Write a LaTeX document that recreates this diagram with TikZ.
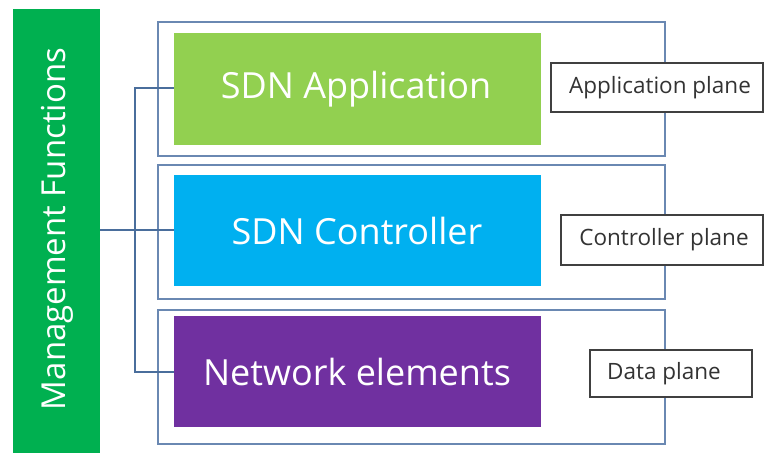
\documentclass[tikz,border=0pt]{standalone}
\usepackage{fontspec}
\setmainfont{Open Sans}
\definecolor{mgmtgreen}{HTML}{00B050}
\definecolor{appgreen}{HTML}{92D050}
\definecolor{ctrlblue}{HTML}{00B0F0}
\definecolor{netpurple}{HTML}{7030A0}
\definecolor{frameblue}{HTML}{6A88B2}
\definecolor{wireblue}{HTML}{4A6E9C}
\begin{document}
\begin{tikzpicture}[x=1pt,y=-1pt,
  planeframe/.style={draw=frameblue,line width=1.6pt},
  layertext/.style={text=white,font=\fontsize{36}{40}\selectfont},
  tagbox/.style={draw=black!75,fill=white,line width=1.3pt},
  tagtext/.style={text=black!80,font=\fontsize{22.5}{26}\selectfont},
  wire/.style={draw=wireblue,line width=1.3pt}]
\useasboundingbox[fill=white] (0,0) rectangle (765,453);

% management functions bar
\fill[mgmtgreen] (13,9) rectangle (100,453);
\node[rotate=90,text=white,font=\fontsize{33}{38}\selectfont] (mgmt) at (57,229) {Management Functions};
\coordinate (mgmtport) at (100,230);

% plane frames
\draw[planeframe] (158,22) rectangle (665,156);
\draw[planeframe] (158,165) rectangle (665,299);
\draw[planeframe] (158,310) rectangle (665,444);

% layer boxes
\fill[appgreen] (174,33) rectangle (541,145);
\node[layertext] (app) at (356,89) {SDN Application};
\fill[ctrlblue] (174,175) rectangle (541,286);
\node[layertext] (ctrl) at (357,230.5) {SDN Controller};
\fill[netpurple] (174,316) rectangle (541,427);
\node[layertext] (net) at (357,371.5) {Network elements};

\coordinate (appin) at (174,88);
\coordinate (ctrlin) at (174,230);
\coordinate (netin) at (174,372);
\coordinate (bus) at (135,230);

% connectors from the management bar
\draw[wire] (mgmtport) -- (ctrlin);
\draw[wire] (appin) -| (bus) |- (netin);

% plane tags
\draw[tagbox] (551,63) rectangle (763,112);
\node[tagtext] (apptag) at (660,87.5) {Application plane};
\draw[tagbox] (561,215) rectangle (763,265);
\node[tagtext] (ctrltag) at (664,240) {Controller plane};
\draw[tagbox] (590,350) rectangle (752,397);
\node[tagtext] (datatag) at (664,373.5) {Data plane};
\end{tikzpicture}
\end{document}
